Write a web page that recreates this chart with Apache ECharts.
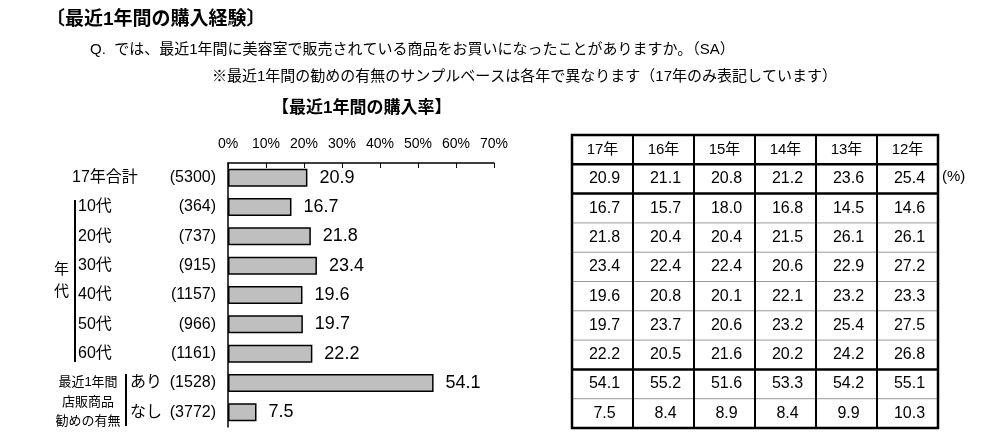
<!DOCTYPE html><html><head><meta charset="utf-8"><script src="https://cdn.jsdelivr.net/npm/echarts@6/dist/echarts.min.js"></script>
<style>body{margin:0;background:#fff}#c{width:1000px;height:441px}</style></head><body><div id="c"></div><script>
const categories=['17年合計','10代','20代','30代','40代','50代','60代','あり','なし'];
const counts=['(5300)','(364)','(737)','(915)','(1157)','(966)','(1161)','(1528)','(3772)'];
const values=[20.9,16.7,21.8,23.4,19.6,19.7,22.2,54.1,7.5];
const years=['17年','16年','15年','14年','13年','12年'];
const y17=[20.9,16.7,21.8,23.4,19.6,19.7,22.2,54.1,7.5];
const y16=[21.1,15.7,20.4,22.4,20.8,23.7,20.5,55.2,8.4];
const y15=[20.8,18.0,20.4,22.4,20.1,20.6,21.6,51.6,8.9];
const y14=[21.2,16.8,21.5,20.6,22.1,23.2,20.2,53.3,8.4];
const y13=[23.6,14.5,26.1,22.9,23.2,25.4,24.2,54.2,9.9];
const y12=[25.4,14.6,26.1,27.2,23.3,27.5,26.8,55.1,10.3];
const tableCols=[y17,y16,y15,y14,y13,y12];
const F='"Liberation Sans","Noto Sans CJK JP",sans-serif';
const ch=echarts.init(document.getElementById('c'));
ch.setOption({animation:false,
grid:{left:228,right:506,top:163,bottom:14},
xAxis:{type:'value',position:'top',min:0,max:70,interval:10,
 axisLine:{show:true,lineStyle:{color:'#000',width:1.5}},axisTick:{show:true,inside:true,length:5,lineStyle:{color:'#000'}},
 splitLine:{show:false},axisLabel:{formatter:'{value}%',color:'#000',fontSize:14,fontFamily:F,margin:12}},
yAxis:{type:'category',inverse:true,data:categories,axisLine:{show:true,lineStyle:{color:'#000',width:1.5}},axisTick:{show:false},axisLabel:{show:false}},
series:[{type:'bar',data:values,barWidth:18,itemStyle:{color:'#bfbfbf',borderColor:'#000',borderWidth:1.5},
 label:{show:true,position:'right',distance:12,color:'#000',fontSize:18,fontFamily:F,formatter:p=>p.value.toFixed(1)}}]});
const g=[];
const T=(x,y,t,o)=>g.push({type:'text',x,y,style:Object.assign({text:t,fill:'#000',font:'14px '+F,textVerticalAlign:'middle'},o||{})});
const L=(x1,y1,x2,y2,w,c)=>g.push({type:'line',shape:{x1,y1,x2,y2},style:{stroke:c||'#000',lineWidth:w||1}});
T(46,20,'〔最近1年間の購入経験〕',{font:'bold 19px '+F});
T(90,50,'Q.  では、最近1年間に美容室で販売されている商品をお買いになったことがありますか。（SA）',{font:'15px '+F});
T(212,77,'※最近1年間の勧めの有無のサンプルベースは各年で異なります（17年のみ表記しています）',{font:'15px '+F});
T(272,108,'【最近1年間の購入率】',{font:'bold 17px '+F});
categories.forEach((c,i)=>{const y=ch.convertToPixel({yAxisIndex:0},c);
 const x=i==0?72:(i<7?78:130);
 T(x,y,c,{font:'16px '+F});T(216,y,counts[i],{font:'16px '+F,textAlign:'right'});});
L(75,200,75,362,2);T(54,270,'年',{font:'15px '+F});T(54,292,'代',{font:'15px '+F});
L(126,374,126,426,2);
T(88,382,'最近1年間',{font:'13px '+F,textAlign:'center'});T(88,402,'店販商品',{font:'13px '+F,textAlign:'center'});T(88,421,'勧めの有無',{font:'13px '+F,textAlign:'center'});
const tx=572,tw=61,ty=135,rh=29.3,nr=10;
for(let r=1;r<nr;r++){const thick=(r==1||r==2||r==8);L(tx,ty+r*rh,tx+6*tw,ty+r*rh,thick?2.5:1,thick?'#000':'#999');}
for(let c=1;c<6;c++)L(tx+c*tw,ty,tx+c*tw,ty+nr*rh,2);
g.push({type:'rect',shape:{x:tx,y:ty,width:6*tw,height:nr*rh},style:{fill:'none',stroke:'#000',lineWidth:2.5}});
years.forEach((yr,c)=>{T(tx+c*tw+tw/2,ty+rh/2,yr,{font:'15px '+F,textAlign:'center'});
 tableCols[c].forEach((v,r)=>T(tx+c*tw+tw/2+2,ty+(r+1.5)*rh,v.toFixed(1),{font:'16px '+F,textAlign:'center'}));});
T(942,177,'(%)',{font:'15px '+F});
ch.setOption({graphic:g});
</script></body></html>
